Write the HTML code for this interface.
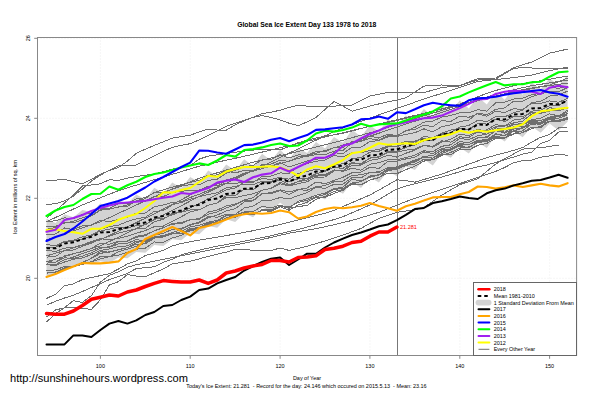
<!DOCTYPE html>
<html><head><meta charset="utf-8"><title>Global Sea Ice Extent</title>
<style>html,body{margin:0;padding:0;background:#fff;width:601px;height:400px;overflow:hidden}body{position:relative}</style>
</head><body>
<svg width="601" height="400" viewBox="0 0 601 400" style="position:absolute;left:0;top:0">
<g stroke="#e2e2e2" stroke-width="0.6" stroke-dasharray="1,2">
<line x1="100.4" y1="37.5" x2="100.4" y2="355.5"/>
<line x1="190.2" y1="37.5" x2="190.2" y2="355.5"/>
<line x1="280.1" y1="37.5" x2="280.1" y2="355.5"/>
<line x1="369.9" y1="37.5" x2="369.9" y2="355.5"/>
<line x1="459.8" y1="37.5" x2="459.8" y2="355.5"/>
<line x1="549.6" y1="37.5" x2="549.6" y2="355.5"/>
<line x1="37.5" y1="38.3" x2="576.6" y2="38.3"/>
<line x1="37.5" y1="118.3" x2="576.6" y2="118.3"/>
<line x1="37.5" y1="198.3" x2="576.6" y2="198.3"/>
<line x1="37.5" y1="278.3" x2="576.6" y2="278.3"/>
</g>
<polygon points="46.5,218.8 55.5,223.0 64.5,214.2 73.4,217.3 82.4,209.9 91.4,212.1 100.4,203.5 109.4,207.7 118.4,199.7 127.4,203.8 136.3,194.4 145.3,199.4 154.3,187.7 163.3,193.2 172.3,182.6 181.3,187.9 190.2,177.0 199.2,182.3 208.2,170.5 217.2,176.0 226.2,164.5 235.2,170.5 244.2,159.2 253.1,166.0 262.1,153.8 271.1,160.5 280.1,149.5 289.1,159.0 298.1,148.0 307.1,153.0 316.0,142.0 325.0,148.5 334.0,136.9 343.0,142.8 352.0,129.7 361.0,136.8 369.9,125.2 378.9,131.8 387.9,119.3 396.9,126.0 405.9,115.5 414.9,120.5 423.9,109.0 432.8,116.5 441.8,104.7 450.8,110.8 459.8,100.5 468.8,108.4 477.8,96.8 486.8,104.6 495.7,92.0 504.7,99.8 513.7,88.0 522.7,94.8 531.7,82.5 540.7,89.1 549.6,78.2 558.6,85.6 567.6,75.3 567.6,121.8 558.6,130.4 549.6,123.5 540.7,132.8 531.7,126.5 522.7,137.3 513.7,131.2 504.7,141.5 495.7,135.5 486.8,148.0 477.8,142.0 468.8,153.5 459.8,147.5 450.8,157.8 441.8,153.6 432.8,165.4 423.9,159.2 414.9,170.0 405.9,166.4 396.9,176.3 387.9,170.9 378.9,182.6 369.9,177.3 361.0,187.9 352.0,181.8 343.0,193.8 334.0,188.9 325.0,199.5 316.0,194.2 307.1,204.0 298.1,200.6 289.1,210.0 280.1,202.5 271.1,211.6 262.1,207.4 253.1,217.3 244.2,213.4 235.2,222.0 226.2,219.3 217.2,227.7 208.2,225.9 199.2,234.2 190.2,233.0 181.3,240.2 172.3,239.3 163.3,246.0 154.3,244.9 145.3,252.8 136.3,251.9 127.4,258.2 118.4,257.4 109.4,263.0 100.4,261.3 91.4,263.9 82.4,263.5 73.4,267.1 64.5,270.5 55.5,274.5 46.5,276.8" fill="#d3d3d3" stroke="none"/>
<g fill="none" stroke="#6e6e6e" stroke-width="1" shape-rendering="crispEdges">
<polyline points="46.5,180.8 55.5,180.2 64.5,179.3 73.4,181.6 82.4,183.8 91.4,179.5 100.4,174.2 109.4,170.5 118.4,167.5 127.4,161.1 136.3,153.3 145.3,149.2 154.3,145.4 163.3,141.8 172.3,138.2 181.3,136.5 190.2,135.3 199.2,131.8 208.2,129.1 217.2,130.0 226.2,130.2 235.2,124.8 244.2,120.8 253.1,117.2 262.1,113.7 271.1,112.2 280.1,110.2 289.1,107.5 298.1,105.1 307.1,106.1 316.0,106.9 325.0,106.5 334.0,106.1 343.0,105.6 352.0,105.0 361.0,100.5 369.9,96.1 378.9,94.2 387.9,92.5 396.9,92.5 405.9,92.5 414.9,92.5 423.9,92.5 432.8,90.1 441.8,87.5 450.8,86.7 459.8,85.9 468.8,82.8 477.8,80.0 486.8,79.5 495.7,79.0 504.7,73.7 513.7,68.3 522.7,67.7 531.7,68.0 540.7,68.0 549.6,68.0 558.6,68.0 567.6,68.0"/>
<polyline points="46.5,204.5 55.5,203.7 64.5,200.9 73.4,196.0 82.4,189.0 91.4,181.1 100.4,175.1 109.4,170.3 118.4,166.0 127.4,165.6 136.3,165.0 145.3,160.3 154.3,155.7 163.3,151.2 172.3,147.4 181.3,145.3 190.2,143.7 199.2,139.9 208.2,135.6 217.2,130.9 226.2,126.4 235.2,123.2 244.2,120.3 253.1,117.4 262.1,115.6 271.1,117.5 280.1,119.9 289.1,123.2 298.1,125.7 307.1,121.9 316.0,117.4 325.0,109.5 334.0,101.6 343.0,106.1 352.0,111.2 361.0,108.6 369.9,106.1 378.9,103.9 387.9,101.8 396.9,100.1 405.9,97.8 414.9,92.0 423.9,86.1 432.8,85.4 441.8,85.0 450.8,85.4 459.8,85.6 468.8,82.0 477.8,78.7 486.8,78.3 495.7,78.0 504.7,72.9 513.7,67.7 522.7,64.7 531.7,62.1 540.7,57.7 549.6,53.2 558.6,51.1 567.6,49.1"/>
<polyline points="46.5,218.3 55.5,210.8 64.5,203.1 73.4,195.0 82.4,186.0 91.4,185.0 100.4,183.8 109.4,179.7 118.4,180.4 127.4,178.1 136.3,176.6 145.3,175.3 154.3,174.0 163.3,171.7 172.3,169.1 181.3,167.4 190.2,165.8 199.2,159.1 208.2,156.1 217.2,154.8 226.2,153.5 235.2,152.3 244.2,151.1 253.1,150.1 262.1,149.0 271.1,149.5 280.1,150.0 289.1,146.4 298.1,142.8 307.1,140.2 316.0,138.0 325.0,136.2 334.0,134.8 343.0,133.3 352.0,131.0 361.0,128.5 369.9,126.0 378.9,124.2 387.9,122.4 396.9,120.6 405.9,118.4 414.9,116.0 423.9,113.6 432.8,111.2 441.8,108.8 450.8,106.4 459.8,104.1 468.8,100.5 477.8,96.9 486.8,93.3 495.7,90.5 504.7,88.1 513.7,85.7 522.7,83.6 531.7,82.1 540.7,80.7 549.6,79.2 558.6,77.6 567.6,76.1"/>
<polyline points="46.5,239.8 55.5,236.8 64.5,233.8 73.4,230.9 82.4,227.9 91.4,224.9 100.4,221.8 109.4,217.6 118.4,213.4 127.4,209.2 136.3,205.0 145.3,200.8 154.3,196.7 163.3,192.7 172.3,189.1 181.3,185.5 190.2,181.9 199.2,178.3 208.2,175.5 217.2,172.8 226.2,170.1 235.2,167.4 244.2,164.8 253.1,162.2 262.1,160.1 271.1,157.9 280.1,155.8 289.1,153.6 298.1,151.5 307.1,149.2 316.0,147.0 325.0,144.7 334.0,142.5 343.0,140.2 352.0,137.7 361.0,135.2 369.9,132.8 378.9,130.3 387.9,127.4 396.9,124.5 405.9,121.6 414.9,118.7 423.9,115.8 432.8,113.1 441.8,110.5 450.8,107.8 459.8,105.1 468.8,102.4 477.8,99.7 486.8,97.0 495.7,94.3 504.7,91.9 513.7,89.8 522.7,87.7 531.7,85.7 540.7,84.3 549.6,82.9 558.6,81.5 567.6,80.1"/>
<polyline points="46.5,255.9 55.5,253.2 64.5,250.5 73.4,247.9 82.4,245.2 91.4,242.5 100.4,239.8 109.4,235.5 118.4,231.2 127.4,226.9 136.3,222.6 145.3,218.2 154.3,213.8 163.3,209.1 172.3,204.4 181.3,199.7 190.2,195.1 199.2,190.4 208.2,187.0 217.2,183.8 226.2,180.6 235.2,177.3 244.2,174.1 253.1,171.1 262.1,168.6 271.1,166.1 280.1,163.6 289.1,161.1 298.1,158.5 307.1,155.9 316.0,153.2 325.0,150.5 334.0,147.8 343.0,145.1 352.0,142.3 361.0,139.3 369.9,136.2 378.9,133.2 387.9,130.1 396.9,127.1 405.9,124.1 414.9,121.2 423.9,118.2 432.8,115.3 441.8,112.4 450.8,109.5 459.8,106.6 468.8,103.6 477.8,100.7 486.8,98.3 495.7,96.1 504.7,93.8 513.7,91.6 522.7,89.6 531.7,88.1 540.7,86.6 549.6,85.1 558.6,81.6 567.6,78.1"/>
<polyline points="46.5,261.9 55.5,259.2 64.5,256.5 73.4,253.9 82.4,251.2 91.4,248.5 100.4,245.8 109.4,241.5 118.4,237.2 127.4,232.9 136.3,228.6 145.3,224.2 154.3,219.8 163.3,215.1 172.3,210.4 181.3,205.7 190.2,201.1 199.2,196.4 208.2,192.1 217.2,187.7 226.2,183.4 235.2,179.1 244.2,174.8 253.1,170.5 262.1,166.2 271.1,161.9 280.1,157.6 289.1,153.2 298.1,148.9 307.1,144.6 316.0,140.2 325.0,135.8 334.0,131.5 343.0,127.8 352.0,124.6 361.0,121.4 369.9,118.1 378.9,114.9 387.9,111.7 396.9,108.5 405.9,105.4 414.9,102.2 423.9,99.0 432.8,96.2 441.8,93.3 450.8,90.5 459.8,87.5 468.8,84.4 477.8,81.4 486.8,80.5 495.7,79.5 504.7,78.6 513.7,77.6 522.7,76.4 531.7,75.0 540.7,72.8 549.6,70.6 558.6,68.8 567.6,67.1"/>
<polyline points="46.5,221.8 55.5,217.5 64.5,213.3 73.4,209.1 82.4,205.0 91.4,201.4 100.4,197.8 109.4,194.2 118.4,190.7 127.4,187.8 136.3,185.1 145.3,182.4 154.3,179.7 163.3,177.0 172.3,174.3 181.3,171.6 190.2,168.9 199.2,166.2 208.2,164.2 217.2,162.2 226.2,160.2 235.2,158.3 244.2,156.3 253.1,154.2 262.1,152.1 271.1,149.9 280.1,147.8 289.1,145.6 298.1,143.5 307.1,141.3 316.0,139.2 325.0,137.0 334.0,134.8 343.0,132.7 352.0,130.5 361.0,128.4 369.9,126.2 378.9,124.1 387.9,121.9 396.9,119.7 405.9,117.6 414.9,115.4 423.9,113.3 432.8,111.1 441.8,109.0 450.8,106.8 459.8,104.6 468.8,102.5 477.8,100.3 486.8,98.2 495.7,96.0 504.7,94.1 513.7,92.3 522.7,90.5 531.7,88.7 540.7,86.9 549.6,85.6 558.6,84.3 567.6,83.1"/>
<polyline points="46.5,298.5 55.5,294.2 64.5,285.7 73.4,283.9 82.4,279.6 91.4,277.5 100.4,275.6 109.4,273.8 118.4,269.0 127.4,263.9 136.3,260.8 145.3,255.6 154.3,253.0 163.3,250.4 172.3,245.9 181.3,243.5 190.2,241.8 199.2,240.1 208.2,238.6 217.2,237.1 226.2,235.6 235.2,234.0 244.2,232.4 253.1,230.7 262.1,228.8 271.1,226.6 280.1,224.4 289.1,222.2 298.1,220.0 307.1,217.7 316.0,215.5 325.0,213.2 334.0,210.3 343.0,206.5 352.0,202.7 361.0,198.8 369.9,195.0 378.9,190.0 387.9,184.9 396.9,179.8 405.9,180.6 414.9,182.2 423.9,179.5 432.8,176.8 441.8,174.1 450.8,170.8 459.8,167.5 468.8,164.2 477.8,160.9 486.8,157.6 495.7,155.2 504.7,152.8 513.7,150.4 522.7,147.6 531.7,142.1 540.7,137.3 549.6,134.5 558.6,127.9 567.6,127.0"/>
<polyline points="46.5,305.3 55.5,301.2 64.5,298.0 73.4,295.2 82.4,291.5 91.4,287.5 100.4,283.8 109.4,279.6 118.4,276.6 127.4,273.5 136.3,268.5 145.3,267.7 154.3,266.8 163.3,262.4 172.3,259.3 181.3,254.7 190.2,252.4 199.2,250.2 208.2,248.1 217.2,246.2 226.2,244.6 235.2,242.9 244.2,241.2 253.1,239.4 262.1,237.6 271.1,235.7 280.1,233.6 289.1,231.5 298.1,229.5 307.1,227.1 316.0,224.6 325.0,222.1 334.0,219.6 343.0,216.7 352.0,212.8 361.0,208.9 369.9,205.0 378.9,199.6 387.9,194.2 396.9,188.9 405.9,186.1 414.9,183.7 423.9,181.5 432.8,179.3 441.8,177.0 450.8,174.4 459.8,171.7 468.8,169.0 477.8,166.8 486.8,165.0 495.7,162.4 504.7,159.7 513.7,157.0 522.7,154.1 531.7,152.1 540.7,143.5 549.6,140.4 558.6,132.0 567.6,131.2"/>
<polyline points="46.5,317.0 55.5,310.0 64.5,307.8 73.4,307.5 82.4,308.4 91.4,309.4 100.4,299.8 109.4,284.9 118.4,281.7 127.4,274.6 136.3,276.0 145.3,276.6 154.3,272.8 163.3,269.0 172.3,263.9 181.3,262.4 190.2,261.2 199.2,258.9 208.2,256.4 217.2,254.1 226.2,252.2 235.2,249.4 244.2,249.7 253.1,250.2 262.1,251.0 271.1,250.4 280.1,248.1 289.1,250.4 298.1,248.4 307.1,246.2 316.0,243.6 325.0,241.0 334.0,238.0 343.0,235.0 352.0,231.8 361.0,228.5 369.9,223.4 378.9,218.4 387.9,215.3 396.9,212.3 405.9,211.0 414.9,209.6 423.9,207.6 432.8,201.3 441.8,195.1 450.8,189.9 459.8,184.6 468.8,181.6 477.8,178.6 486.8,171.4 495.7,164.0 504.7,158.8 513.7,153.9 522.7,149.1 531.7,148.2 540.7,147.8 549.6,146.4 558.6,145.0"/>
<polyline points="46.5,322.0 55.5,313.7 64.5,307.6 73.4,300.6 82.4,302.4 91.4,295.7 100.4,282.0 109.4,275.4 118.4,271.8 127.4,267.3 136.3,264.7 145.3,262.9 154.3,261.1 163.3,259.3 172.3,257.5 181.3,255.7 190.2,253.9 199.2,252.2 208.2,250.4 217.2,248.6 226.2,246.8 235.2,245.0 244.2,243.2 253.1,241.4 262.1,239.5 271.1,237.4 280.1,235.3 289.1,233.2 298.1,231.7 307.1,230.2 316.0,228.7 325.0,226.8 334.0,224.7 343.0,222.6 352.0,220.4 361.0,217.7 369.9,215.0 378.9,212.3 387.9,208.8 396.9,205.2 405.9,201.6 414.9,198.4 423.9,195.4 432.8,192.4 441.8,189.4 450.8,186.4 459.8,183.4 468.8,180.4 477.8,177.4 486.8,174.4 495.7,171.4 504.7,167.5 513.7,162.7 522.7,160.6 531.7,160.0 540.7,157.2 549.6,155.9 558.6,154.2 567.6,155.4"/>
<polyline points="46.5,226.1 55.5,226.3 64.5,223.1 73.4,221.3 82.4,217.7 91.4,215.6 100.4,209.8 109.4,209.3 118.4,206.8 127.4,206.3 136.3,200.8 145.3,198.6 154.3,192.2 163.3,192.3 172.3,189.4 181.3,186.1 190.2,184.6 199.2,184.8 208.2,180.4 217.2,179.2 226.2,173.1 235.2,170.4 244.2,166.8 253.1,165.4 262.1,159.8 271.1,159.4 280.1,154.6 289.1,158.1 298.1,154.9 307.1,155.2 316.0,151.6 325.0,152.0 334.0,147.7 343.0,147.5 352.0,141.5 361.0,140.9 369.9,138.6 378.9,140.1 387.9,135.6 396.9,135.6 405.9,130.8 414.9,127.4 423.9,122.1 432.8,121.1 441.8,117.1 450.8,115.4 459.8,112.9 468.8,112.9 477.8,109.7 486.8,111.2 495.7,102.8 504.7,102.2 513.7,99.0 522.7,98.3 531.7,94.6 540.7,93.3 549.6,87.4 558.6,88.3 567.6,86.0"/>
<polyline points="46.5,229.4 55.5,227.6 64.5,222.2 73.4,222.8 82.4,220.1 91.4,215.9 100.4,210.3 109.4,208.2 118.4,203.6 127.4,203.6 136.3,198.9 145.3,197.7 154.3,192.5 163.3,189.8 172.3,187.1 181.3,184.8 190.2,182.5 199.2,180.2 208.2,176.3 217.2,174.8 226.2,170.7 235.2,172.9 244.2,170.5 253.1,170.2 262.1,167.2 271.1,166.2 280.1,162.5 289.1,167.1 298.1,164.1 307.1,161.0 316.0,159.4 325.0,157.9 334.0,152.8 343.0,153.5 352.0,147.2 361.0,147.1 369.9,141.6 378.9,140.6 387.9,136.8 396.9,136.5 405.9,134.4 414.9,132.7 423.9,128.8 432.8,131.9 441.8,126.7 450.8,124.8 459.8,121.6 468.8,120.0 477.8,113.0 486.8,114.8 495.7,109.3 504.7,107.9 513.7,101.1 522.7,101.1 531.7,96.7 540.7,94.0 549.6,91.1 558.6,91.8 567.6,87.6"/>
<polyline points="46.5,235.0 55.5,233.9 64.5,228.0 73.4,229.6 82.4,225.8 91.4,225.1 100.4,220.3 109.4,221.7 118.4,219.4 127.4,217.3 136.3,213.0 145.3,213.0 154.3,206.8 163.3,205.0 172.3,202.4 181.3,201.7 190.2,197.5 199.2,194.2 208.2,190.5 217.2,186.9 226.2,180.0 235.2,177.8 244.2,173.1 253.1,171.0 262.1,164.6 271.1,164.0 280.1,160.3 289.1,161.3 298.1,156.8 307.1,156.3 316.0,154.6 325.0,154.8 334.0,151.1 343.0,150.3 352.0,143.0 361.0,141.6 369.9,135.9 378.9,138.1 387.9,134.0 396.9,135.9 405.9,130.5 414.9,129.4 423.9,125.0 432.8,126.7 441.8,120.6 450.8,121.5 459.8,116.1 468.8,117.3 477.8,113.8 486.8,116.2 495.7,111.2 504.7,112.5 513.7,108.6 522.7,109.6 531.7,103.2 540.7,103.4 549.6,100.9 558.6,102.3 567.6,98.2"/>
<polyline points="46.5,244.4 55.5,245.9 64.5,241.3 73.4,240.5 82.4,236.7 91.4,234.9 100.4,231.1 109.4,229.1 118.4,227.1 127.4,227.8 136.3,225.7 145.3,224.8 154.3,219.0 163.3,218.4 172.3,214.8 181.3,211.6 190.2,207.9 199.2,203.4 208.2,198.7 217.2,194.5 226.2,189.8 235.2,188.1 244.2,182.2 253.1,182.3 262.1,176.5 271.1,176.0 280.1,172.9 289.1,173.4 298.1,166.7 307.1,163.6 316.0,161.2 325.0,160.2 334.0,155.4 343.0,157.0 352.0,152.4 361.0,152.9 369.9,150.4 378.9,149.7 387.9,145.5 396.9,144.5 405.9,141.3 414.9,141.1 423.9,138.6 432.8,140.7 441.8,134.6 450.8,132.6 459.8,127.0 468.8,125.5 477.8,120.2 486.8,121.7 495.7,116.5 504.7,116.9 513.7,112.7 522.7,110.2 531.7,102.6 540.7,101.4 549.6,96.1 558.6,94.9 567.6,91.1"/>
<polyline points="46.5,247.8 55.5,247.3 64.5,241.4 73.4,241.2 82.4,239.2 91.4,235.9 100.4,229.3 109.4,226.6 118.4,225.1 127.4,221.5 136.3,218.8 145.3,217.3 154.3,211.3 163.3,210.7 172.3,204.8 181.3,202.4 190.2,199.3 199.2,196.7 208.2,194.5 217.2,192.8 226.2,188.0 235.2,186.4 244.2,184.0 253.1,184.7 262.1,181.1 271.1,182.2 280.1,180.1 289.1,184.7 298.1,181.5 307.1,178.4 316.0,173.7 325.0,171.4 334.0,164.8 343.0,163.8 352.0,158.8 361.0,157.5 369.9,152.1 378.9,151.3 387.9,146.8 396.9,146.6 405.9,143.3 414.9,141.9 423.9,136.5 432.8,137.7 441.8,133.1 450.8,130.0 459.8,128.2 468.8,129.7 477.8,123.4 486.8,124.1 495.7,119.1 504.7,121.6 513.7,116.3 522.7,116.4 531.7,112.7 540.7,113.4 549.6,111.0 558.6,110.8 567.6,108.0"/>
<polyline points="46.5,250.2 55.5,251.5 64.5,248.1 73.4,247.4 82.4,244.9 91.4,241.4 100.4,238.7 109.4,239.9 118.4,238.3 127.4,236.2 136.3,233.3 145.3,230.5 154.3,226.7 163.3,226.1 172.3,221.2 181.3,216.7 190.2,211.8 199.2,209.7 208.2,205.3 217.2,202.9 226.2,195.8 235.2,195.7 244.2,189.1 253.1,189.8 262.1,182.8 271.1,181.5 280.1,178.4 289.1,179.1 298.1,173.5 307.1,171.5 316.0,169.3 325.0,170.8 334.0,167.4 343.0,168.4 352.0,162.4 361.0,164.5 369.9,158.2 378.9,157.1 387.9,152.5 396.9,152.0 405.9,150.1 414.9,149.1 423.9,145.1 432.8,147.3 441.8,142.2 450.8,139.2 459.8,134.2 468.8,135.6 477.8,131.4 486.8,129.8 495.7,124.6 504.7,126.0 513.7,120.0 522.7,118.7 531.7,111.1 540.7,110.2 549.6,105.6 558.6,105.6 567.6,99.8"/>
<polyline points="46.5,257.1 55.5,256.4 64.5,250.6 73.4,250.0 82.4,246.3 91.4,243.3 100.4,239.1 109.4,236.3 118.4,233.1 127.4,230.9 136.3,228.9 145.3,228.4 154.3,221.6 163.3,219.3 172.3,213.6 181.3,212.1 190.2,209.9 199.2,210.0 208.2,205.1 217.2,203.0 226.2,197.6 235.2,197.6 244.2,195.4 253.1,193.9 262.1,190.2 271.1,188.3 280.1,183.7 289.1,186.0 298.1,183.7 307.1,181.7 316.0,177.1 325.0,177.0 334.0,170.9 343.0,170.8 352.0,163.3 361.0,163.6 369.9,158.1 378.9,156.7 387.9,151.8 396.9,151.4 405.9,147.4 414.9,145.1 423.9,140.8 432.8,139.9 441.8,133.3 450.8,133.5 459.8,131.0 468.8,132.5 477.8,129.5 486.8,130.9 495.7,126.6 504.7,126.2 513.7,122.6 522.7,123.5 531.7,119.7 540.7,118.3 549.6,113.8 558.6,116.0 567.6,111.6"/>
<polyline points="46.5,261.2 55.5,262.5 64.5,255.9 73.4,253.7 82.4,251.6 91.4,248.5 100.4,243.0 109.4,244.3 118.4,241.3 127.4,241.2 136.3,236.3 145.3,234.8 154.3,231.0 163.3,227.8 172.3,223.6 181.3,222.5 190.2,219.8 199.2,219.3 208.2,212.1 217.2,210.0 226.2,206.0 235.2,204.2 244.2,199.9 253.1,197.7 262.1,190.3 271.1,188.3 280.1,182.5 289.1,185.5 298.1,181.7 307.1,179.9 316.0,175.2 325.0,174.5 334.0,169.9 343.0,171.4 352.0,168.1 361.0,170.2 369.9,164.2 378.9,162.6 387.9,159.7 396.9,159.7 405.9,157.6 414.9,155.1 423.9,150.8 432.8,151.7 441.8,146.3 450.8,144.8 459.8,138.5 468.8,139.7 477.8,135.7 486.8,134.3 495.7,127.8 504.7,128.9 513.7,123.1 522.7,121.0 531.7,114.0 540.7,113.6 549.6,107.6 558.6,109.5 567.6,107.1"/>
<polyline points="46.5,264.1 55.5,264.8 64.5,259.6 73.4,257.1 82.4,253.4 91.4,250.5 100.4,247.3 109.4,246.9 118.4,241.8 127.4,241.0 136.3,237.3 145.3,235.7 154.3,230.7 163.3,227.5 172.3,224.2 181.3,223.5 190.2,219.7 199.2,218.6 208.2,214.3 217.2,211.9 226.2,208.0 235.2,205.0 244.2,200.2 253.1,200.3 262.1,193.5 271.1,193.4 280.1,190.8 289.1,194.4 298.1,189.8 307.1,190.2 316.0,186.8 325.0,185.6 334.0,181.8 343.0,181.0 352.0,175.2 361.0,174.9 369.9,172.4 378.9,172.3 387.9,167.5 396.9,167.9 405.9,165.8 414.9,161.2 423.9,157.0 432.8,158.2 441.8,151.4 450.8,149.2 459.8,143.3 468.8,142.7 477.8,137.6 486.8,136.9 495.7,130.5 504.7,133.1 513.7,128.4 522.7,128.0 531.7,124.3 540.7,123.7 549.6,121.2 558.6,121.2 567.6,118.3"/>
<polyline points="46.5,264.7 55.5,265.5 64.5,262.0 73.4,259.2 82.4,258.0 91.4,254.5 100.4,250.5 109.4,249.0 118.4,246.5 127.4,245.9 136.3,241.1 145.3,241.9 154.3,236.8 163.3,235.6 172.3,232.5 181.3,229.6 190.2,224.3 199.2,222.9 208.2,217.9 217.2,215.0 226.2,211.0 235.2,208.6 244.2,202.0 253.1,200.8 262.1,193.9 271.1,192.6 280.1,189.9 289.1,192.0 298.1,189.5 307.1,188.0 316.0,182.1 325.0,183.6 334.0,180.5 343.0,177.2 352.0,172.7 361.0,172.1 369.9,167.2 378.9,168.4 387.9,161.5 396.9,161.1 405.9,158.9 414.9,157.2 423.9,151.9 432.8,153.6 441.8,148.5 450.8,147.2 459.8,141.6 468.8,142.8 477.8,137.9 486.8,137.6 495.7,130.5 504.7,132.1 513.7,126.5 522.7,126.9 531.7,123.0 540.7,123.2 549.6,119.1 558.6,120.5 567.6,117.6"/>
<polyline points="46.5,270.4 55.5,269.9 64.5,266.5 73.4,266.1 82.4,262.6 91.4,258.2 100.4,251.6 109.4,252.2 118.4,249.6 127.4,247.7 136.3,242.9 145.3,239.8 154.3,235.1 163.3,233.3 172.3,229.4 181.3,228.2 190.2,225.1 199.2,222.1 208.2,216.5 217.2,217.2 226.2,214.3 235.2,214.5 244.2,208.0 253.1,206.1 262.1,200.5 271.1,200.4 280.1,197.5 289.1,198.9 298.1,195.7 307.1,192.6 316.0,187.5 325.0,188.3 334.0,184.4 343.0,184.1 352.0,177.7 361.0,178.0 369.9,172.4 378.9,171.8 387.9,167.7 396.9,168.8 405.9,163.4 414.9,160.1 423.9,157.1 432.8,158.1 441.8,153.5 450.8,150.1 459.8,145.3 468.8,144.4 477.8,140.3 486.8,139.7 495.7,133.8 504.7,135.6 513.7,128.9 522.7,127.8 531.7,122.5 540.7,122.7 549.6,117.3 558.6,116.0 567.6,110.2"/>
<polyline points="46.5,276.7 55.5,274.5 64.5,267.8 73.4,266.9 82.4,263.4 91.4,261.8 100.4,256.4 109.4,256.8 118.4,251.8 127.4,249.1 136.3,246.3 145.3,243.1 154.3,237.4 163.3,237.0 172.3,234.0 181.3,231.7 190.2,226.8 199.2,225.3 208.2,222.1 217.2,220.5 226.2,215.1 235.2,215.6 244.2,212.1 253.1,213.9 262.1,210.5 271.1,211.5 280.1,206.8 289.1,210.2 298.1,205.1 307.1,202.3 316.0,197.1 325.0,197.5 334.0,193.5 343.0,190.3 352.0,182.9 361.0,181.8 369.9,176.1 378.9,174.8 387.9,168.6 396.9,166.8 405.9,163.3 414.9,162.0 423.9,157.0 432.8,158.1 441.8,151.9 450.8,148.9 459.8,146.0 468.8,147.9 477.8,141.7 486.8,140.2 495.7,134.6 504.7,135.5 513.7,130.9 522.7,132.3 531.7,127.1 540.7,127.5 549.6,121.4 558.6,121.7 567.6,119.4"/>
<polyline points="46.5,221.7 55.5,220.8 64.5,217.8 73.4,218.8 82.4,214.2 91.4,213.1 100.4,207.9 109.4,209.0 118.4,207.1 127.4,204.9 136.3,200.8 145.3,201.1 154.3,196.6 163.3,196.5 172.3,192.6 181.3,191.3 190.2,190.4 199.2,190.2 208.2,186.2 217.2,185.8 226.2,183.1 235.2,183.7 244.2,181.7 253.1,181.7 262.1,178.5 271.1,179.4 280.1,177.3 289.1,181.4 298.1,179.0 307.1,178.8 316.0,176.1 325.0,175.7 334.0,170.8 343.0,170.4 352.0,165.5 361.0,165.2 369.9,160.4 378.9,158.9 387.9,155.1 396.9,157.1 405.9,153.2 414.9,150.2 423.9,145.2 432.8,146.3 441.8,140.9 450.8,142.1 459.8,136.9 468.8,137.4 477.8,131.9 486.8,134.1 495.7,130.1 504.7,130.0 513.7,124.2 522.7,124.7 531.7,120.6 540.7,122.5 549.6,117.3 558.6,116.9 567.6,113.4"/>
<polyline points="46.5,273.2 55.5,272.0 64.5,268.0 73.4,266.8 82.4,262.1 91.4,258.5 100.4,253.4 109.4,251.7 118.4,249.9 127.4,247.6 136.3,244.3 145.3,243.8 154.3,238.3 163.3,235.5 172.3,233.0 181.3,233.2 190.2,228.7 199.2,227.5 208.2,224.8 217.2,223.2 226.2,217.8 235.2,215.4 244.2,213.7 253.1,215.0 262.1,209.6 271.1,209.7 280.1,206.1 289.1,208.2 298.1,206.6 307.1,205.4 316.0,199.4 325.0,196.4 334.0,191.4 343.0,189.6 352.0,184.5 361.0,185.0 369.9,180.1 378.9,177.7 387.9,170.6 396.9,169.4 405.9,164.8 414.9,164.2 423.9,159.3 432.8,159.8 441.8,155.5 450.8,152.4 459.8,148.1 468.8,146.9 477.8,142.8 486.8,141.0 495.7,136.3 504.7,137.8 513.7,133.5 522.7,130.7 531.7,123.9 540.7,124.1 549.6,118.2 558.6,118.3 567.6,114.8"/>
<polyline points="46.5,272.0 55.5,272.3 64.5,268.8 73.4,266.6 82.4,264.4 91.4,261.7 100.4,259.0 109.4,256.7 118.4,255.1 127.4,252.4 136.3,249.3 145.3,248.1 154.3,242.0 163.3,242.2 172.3,238.0 181.3,235.4 190.2,229.8 199.2,227.7 208.2,223.2 217.2,222.8 226.2,217.9 235.2,217.7 244.2,211.8 253.1,211.5 262.1,206.3 271.1,208.0 280.1,205.1 289.1,207.7 298.1,201.3 307.1,198.8 316.0,195.2 325.0,193.2 334.0,188.7 343.0,187.1 352.0,179.0 361.0,181.1 369.9,177.2 378.9,175.1 387.9,169.8 396.9,168.3 405.9,163.9 414.9,161.8 423.9,156.2 432.8,155.8 441.8,149.8 450.8,149.4 459.8,144.8 468.8,144.6 477.8,141.1 486.8,141.3 495.7,137.4 504.7,138.2 513.7,134.0 522.7,132.8 531.7,128.6 540.7,126.3 549.6,121.1 558.6,120.2 567.6,118.2"/>
<polyline points="46.5,263.1 55.5,262.3 64.5,257.8 73.4,258.6 82.4,256.1 91.4,252.8 100.4,248.2 109.4,247.3 118.4,243.9 127.4,243.4 136.3,239.5 145.3,241.0 154.3,236.7 163.3,236.1 172.3,233.8 181.3,233.4 190.2,230.8 199.2,228.6 208.2,223.2 217.2,221.6 226.2,215.5 235.2,214.8 244.2,212.0 253.1,214.1 262.1,210.0 271.1,210.2 280.1,206.4 289.1,206.9 298.1,202.5 307.1,200.3 316.0,196.7 325.0,194.4 334.0,189.4 343.0,188.4 352.0,183.5 361.0,184.6 369.9,179.9 378.9,177.6 387.9,173.0 396.9,173.7 405.9,169.6 414.9,166.2 423.9,161.1 432.8,159.7 441.8,154.7 450.8,154.5 459.8,149.6 468.8,150.0 477.8,145.3 486.8,143.4 495.7,138.3 504.7,138.2 513.7,130.9 522.7,128.0 531.7,121.1 540.7,120.7 549.6,117.1 558.6,116.1 567.6,113.9"/>
</g>
<line x1="397.5" y1="37.5" x2="397.5" y2="355.5" stroke="#777" stroke-width="1" shape-rendering="crispEdges"/>
<polyline points="46.5,248.3 55.5,248.3 64.5,243.5 73.4,242.3 82.4,239.0 91.4,236.8 100.4,232.5 109.4,232.0 118.4,229.0 127.4,227.5 136.3,224.0 145.3,222.5 154.3,217.5 163.3,216.0 172.3,212.3 181.3,210.5 190.2,206.5 199.2,204.8 208.2,200.0 217.2,198.5 226.2,194.0 235.2,193.0 244.2,188.7 253.1,188.5 262.1,183.3 271.1,183.0 280.1,179.0 289.1,181.5 298.1,177.5 307.1,175.5 316.0,171.5 325.0,171.0 334.0,166.5 343.0,165.5 352.0,159.6 361.0,159.8 369.9,155.3 378.9,155.0 387.9,149.7 396.9,149.5 405.9,146.0 414.9,144.0 423.9,139.5 432.8,140.0 441.8,134.5 450.8,133.0 459.8,129.0 468.8,129.5 477.8,124.5 486.8,125.0 495.7,119.0 504.7,119.5 513.7,114.5 522.7,114.0 531.7,108.5 540.7,108.0 549.6,104.0 558.6,104.2 567.6,100.8" fill="none" stroke="#000" stroke-width="2.0" stroke-linejoin="round" stroke-linecap="butt" stroke-dasharray="3.5,2.8"/>
<polyline points="46.5,230.0 55.5,229.5 64.5,231.0 73.4,232.3 82.4,233.8 91.4,228.8 100.4,228.8 109.4,225.0 118.4,219.8 127.4,216.6 136.3,214.0 145.3,208.0 154.3,201.0 163.3,192.3 172.3,192.6 181.3,190.0 190.2,188.0 199.2,182.0 208.2,175.8 217.2,176.8 226.2,171.6 235.2,169.0 244.2,167.0 253.1,167.0 262.1,166.7 271.1,166.2 280.1,167.5 289.1,170.7 298.1,176.0 307.1,169.5 316.0,166.3 325.0,168.2 334.0,164.5 343.0,160.0 352.0,153.2 361.0,151.7 369.9,147.7 378.9,143.2 387.9,144.7 396.9,144.0 405.9,143.2 414.9,144.0 423.9,140.2 432.8,138.0 441.8,136.5 450.8,134.2 459.8,130.8 468.8,132.7 477.8,130.5 486.8,131.8 495.7,130.2 504.7,129.0 513.7,127.5 522.7,124.2 531.7,116.2 540.7,111.3 549.6,110.2 558.6,108.7 567.6,107.7" fill="none" stroke="#ffff00" stroke-width="2.1" stroke-linejoin="round" stroke-linecap="round" />
<polyline points="46.5,231.7 55.5,229.7 64.5,220.0 73.4,218.0 82.4,215.0 91.4,211.0 100.4,208.0 109.4,205.6 118.4,203.2 127.4,202.5 136.3,201.7 145.3,200.8 154.3,199.3 163.3,197.7 172.3,196.5 181.3,193.0 190.2,194.0 199.2,191.0 208.2,188.0 217.2,182.6 226.2,180.8 235.2,179.4 244.2,182.0 253.1,177.3 262.1,174.6 271.1,173.3 280.1,167.7 289.1,171.5 298.1,167.0 307.1,162.8 316.0,157.7 325.0,157.7 334.0,154.0 343.0,145.7 352.0,143.5 361.0,138.4 369.9,134.0 378.9,130.5 387.9,126.5 396.9,124.3 405.9,122.2 414.9,120.0 423.9,118.3 432.8,117.6 441.8,115.6 450.8,111.8 459.8,108.1 468.8,103.9 477.8,99.4 486.8,99.0 495.7,94.0 504.7,91.7 513.7,90.7 522.7,91.0 531.7,91.7 540.7,94.0 549.6,87.7 558.6,85.7 567.6,87.2" fill="none" stroke="#a020f0" stroke-width="2.1" stroke-linejoin="round" stroke-linecap="round" />
<polyline points="46.5,216.0 55.5,210.5 64.5,207.0 73.4,205.0 82.4,199.0 91.4,194.0 100.4,193.8 109.4,186.5 118.4,189.7 127.4,185.3 136.3,181.8 145.3,177.0 154.3,174.0 163.3,172.5 172.3,170.0 181.3,167.4 190.2,165.4 199.2,163.4 208.2,165.0 217.2,160.5 226.2,155.0 235.2,156.6 244.2,150.0 253.1,149.1 262.1,147.4 271.1,145.0 280.1,143.5 289.1,146.1 298.1,145.5 307.1,140.5 316.0,133.5 325.0,130.8 334.0,131.6 343.0,130.0 352.0,127.6 361.0,123.7 369.9,126.2 378.9,124.4 387.9,123.7 396.9,123.4 405.9,120.5 414.9,117.2 423.9,114.6 432.8,111.4 441.8,106.4 450.8,98.5 459.8,96.5 468.8,92.4 477.8,88.7 486.8,85.3 495.7,82.0 504.7,85.4 513.7,84.2 522.7,84.2 531.7,82.3 540.7,81.7 549.6,76.7 558.6,72.2 567.6,71.5" fill="none" stroke="#00ff00" stroke-width="2.1" stroke-linejoin="round" stroke-linecap="round" />
<polyline points="46.5,241.0 55.5,237.0 64.5,234.0 73.4,228.5 82.4,221.5 91.4,214.0 100.4,206.0 109.4,203.5 118.4,201.0 127.4,197.7 136.3,192.5 145.3,187.5 154.3,181.5 163.3,177.0 172.3,172.0 181.3,167.0 190.2,162.6 199.2,150.6 208.2,150.8 217.2,152.5 226.2,153.8 235.2,149.5 244.2,145.1 253.1,144.6 262.1,142.5 271.1,139.8 280.1,138.0 289.1,141.2 298.1,138.0 307.1,135.1 316.0,129.9 325.0,129.4 334.0,128.2 343.0,127.3 352.0,124.5 361.0,119.3 369.9,118.7 378.9,116.5 387.9,118.8 396.9,112.3 405.9,113.1 414.9,109.3 423.9,105.2 432.8,102.8 441.8,104.3 450.8,105.2 459.8,105.9 468.8,100.3 477.8,98.4 486.8,97.7 495.7,96.7 504.7,94.7 513.7,93.2 522.7,92.2 531.7,91.0 540.7,90.0 549.6,92.5 558.6,93.7 567.6,96.7" fill="none" stroke="#0000ff" stroke-width="2.1" stroke-linejoin="round" stroke-linecap="round" />
<polyline points="46.5,277.0 55.5,274.0 64.5,270.0 73.4,266.6 82.4,263.0 91.4,263.4 100.4,263.4 109.4,262.6 118.4,261.4 127.4,253.0 136.3,249.0 145.3,239.0 154.3,235.0 163.3,231.0 172.3,227.0 181.3,231.0 190.2,235.4 199.2,228.0 208.2,226.0 217.2,223.0 226.2,219.5 235.2,216.0 244.2,214.3 253.1,213.0 262.1,213.8 271.1,213.0 280.1,210.5 289.1,212.2 298.1,218.5 307.1,216.5 316.0,212.0 325.0,209.0 334.0,207.5 343.0,208.2 352.0,207.3 361.0,205.8 369.9,203.0 378.9,206.0 387.9,208.2 396.9,210.7 405.9,206.3 414.9,203.7 423.9,200.5 432.8,197.4 441.8,197.0 450.8,197.0 459.8,194.3 468.8,192.0 477.8,186.5 486.8,187.0 495.7,188.6 504.7,187.3 513.7,185.4 522.7,187.0 531.7,185.4 540.7,183.8 549.6,185.4 558.6,186.4 567.6,183.2" fill="none" stroke="#ffa500" stroke-width="2.1" stroke-linejoin="round" stroke-linecap="round" />
<polyline points="46.5,344.4 55.5,344.4 64.5,344.4 73.4,335.4 82.4,335.4 91.4,337.0 100.4,330.0 109.4,323.6 118.4,321.0 127.4,323.6 136.3,320.4 145.3,315.0 154.3,312.0 163.3,306.0 172.3,305.0 181.3,300.0 190.2,296.6 199.2,290.0 208.2,288.6 217.2,283.4 226.2,280.0 235.2,277.0 244.2,270.5 253.1,266.0 262.1,262.0 271.1,258.7 280.1,257.5 289.1,265.0 298.1,259.5 307.1,253.7 316.0,253.7 325.0,247.5 334.0,242.5 343.0,238.7 352.0,235.0 361.0,232.5 369.9,229.5 378.9,226.2 387.9,224.5 396.9,220.2 405.9,214.8 414.9,209.1 423.9,207.9 432.8,203.1 441.8,201.2 450.8,199.0 459.8,196.5 468.8,198.0 477.8,199.0 486.8,193.3 495.7,190.2 504.7,188.6 513.7,185.4 522.7,183.2 531.7,180.7 540.7,180.0 549.6,177.5 558.6,174.7 567.6,177.8" fill="none" stroke="#000" stroke-width="2.0" stroke-linejoin="round" stroke-linecap="round" />
<polyline points="46.5,313.5 55.5,314.3 64.5,314.2 73.4,311.0 82.4,305.5 91.4,299.2 100.4,297.2 109.4,295.0 118.4,296.0 127.4,292.0 136.3,290.0 145.3,286.5 154.3,283.4 163.3,280.6 172.3,281.4 181.3,282.0 190.2,282.0 199.2,280.0 208.2,283.4 217.2,280.0 226.2,273.0 235.2,271.0 244.2,268.0 253.1,266.0 262.1,264.5 271.1,260.5 280.1,260.5 289.1,262.0 298.1,257.5 307.1,257.0 316.0,255.7 325.0,249.5 334.0,248.2 343.0,246.2 352.0,242.5 361.0,241.2 369.9,236.2 378.9,232.0 387.9,232.0 396.9,227.0" fill="none" stroke="#ff0000" stroke-width="3.5" stroke-linejoin="round" stroke-linecap="round" />
<text x="400" y="228.5" font-family="Liberation Sans, sans-serif" font-size="5.5" fill="#ff0000">21.281</text>
<rect x="37.5" y="37.5" width="539.1" height="318" fill="none" stroke="#888" stroke-width="1"/>
<g stroke="#888" stroke-width="1">
<line x1="100.4" y1="355.5" x2="100.4" y2="358.8"/>
<line x1="190.2" y1="355.5" x2="190.2" y2="358.8"/>
<line x1="280.1" y1="355.5" x2="280.1" y2="358.8"/>
<line x1="369.9" y1="355.5" x2="369.9" y2="358.8"/>
<line x1="459.8" y1="355.5" x2="459.8" y2="358.8"/>
<line x1="549.6" y1="355.5" x2="549.6" y2="358.8"/>
<line x1="34.2" y1="38.3" x2="37.5" y2="38.3"/>
<line x1="34.2" y1="118.3" x2="37.5" y2="118.3"/>
<line x1="34.2" y1="198.3" x2="37.5" y2="198.3"/>
<line x1="34.2" y1="278.3" x2="37.5" y2="278.3"/>
</g>
<g font-family="Liberation Sans, sans-serif" font-size="5.5" fill="#000" text-anchor="middle">
<text x="100.4" y="368">100</text>
<text x="190.2" y="368">110</text>
<text x="280.1" y="368">120</text>
<text x="369.9" y="368">130</text>
<text x="459.8" y="368">140</text>
<text x="549.6" y="368">150</text>
<text transform="translate(30,38.3) rotate(-90)" x="0" y="0">26</text>
<text transform="translate(30,118.3) rotate(-90)" x="0" y="0">24</text>
<text transform="translate(30,198.3) rotate(-90)" x="0" y="0">22</text>
<text transform="translate(30,278.3) rotate(-90)" x="0" y="0">20</text>
</g>
<rect x="473.5" y="282.5" width="103" height="73" fill="#fff" stroke="#666" stroke-width="1" shape-rendering="crispEdges"/>
<line x1="478.5" y1="289.2" x2="489.4" y2="289.2" stroke="#ff0000" stroke-width="2.5" stroke-linecap="round"/>
<text x="493.7" y="291.2" font-family="Liberation Sans, sans-serif" font-size="5.45" fill="#000">2018</text>
<line x1="478.5" y1="295.9" x2="489.4" y2="295.9" stroke="#000" stroke-width="2" stroke-dasharray="2,4.5" stroke-linecap="round"/>
<text x="493.7" y="297.9" font-family="Liberation Sans, sans-serif" font-size="5.45" fill="#000">Mean 1981-2010</text>
<rect x="475.6" y="299.7" width="15.9" height="5.8" rx="2.9" fill="#d3d3d3"/>
<text x="493.7" y="304.6" font-family="Liberation Sans, sans-serif" font-size="5.45" fill="#000">1 Standard Deviation From Mean</text>
<line x1="478.5" y1="309.2" x2="489.4" y2="309.2" stroke="#000" stroke-width="2" stroke-linecap="round"/>
<text x="493.7" y="311.2" font-family="Liberation Sans, sans-serif" font-size="5.45" fill="#000">2017</text>
<line x1="478.5" y1="315.9" x2="489.4" y2="315.9" stroke="#ffa500" stroke-width="2" stroke-linecap="round"/>
<text x="493.7" y="317.9" font-family="Liberation Sans, sans-serif" font-size="5.45" fill="#000">2016</text>
<line x1="478.5" y1="322.6" x2="489.4" y2="322.6" stroke="#0000ff" stroke-width="2" stroke-linecap="round"/>
<text x="493.7" y="324.6" font-family="Liberation Sans, sans-serif" font-size="5.45" fill="#000">2015</text>
<line x1="478.5" y1="329.3" x2="489.4" y2="329.3" stroke="#00ff00" stroke-width="2" stroke-linecap="round"/>
<text x="493.7" y="331.3" font-family="Liberation Sans, sans-serif" font-size="5.45" fill="#000">2014</text>
<line x1="478.5" y1="336.0" x2="489.4" y2="336.0" stroke="#a020f0" stroke-width="2" stroke-linecap="round"/>
<text x="493.7" y="338.0" font-family="Liberation Sans, sans-serif" font-size="5.45" fill="#000">2013</text>
<line x1="478.5" y1="342.6" x2="489.4" y2="342.6" stroke="#ffff00" stroke-width="2" stroke-linecap="round"/>
<text x="493.7" y="344.6" font-family="Liberation Sans, sans-serif" font-size="5.45" fill="#000">2012</text>
<line x1="478.5" y1="349.3" x2="489.4" y2="349.3" stroke="#6e6e6e" stroke-width="1" stroke-linecap="butt"/>
<text x="493.7" y="351.3" font-family="Liberation Sans, sans-serif" font-size="5.45" fill="#000">Every Other Year</text>
<text x="306.7" y="27" text-anchor="middle" font-family="Liberation Sans, sans-serif" font-size="6.8" font-weight="bold">Global Sea Ice Extent Day 133 1978 to 2018</text>
<text transform="translate(17,197) rotate(-90)" text-anchor="middle" font-family="Liberation Sans, sans-serif" font-size="5.5">Ice Extent in millions of sq. km</text>
<text x="307" y="380" text-anchor="middle" font-family="Liberation Sans, sans-serif" font-size="5.45">Day of Year</text>
<text x="186.2" y="387.5" font-family="Liberation Sans, sans-serif" font-size="5.44" xml:space="preserve">Today's Ice Extent: 21.281  - Record for the day: 24.146 which occured on 2015.5.13  - Mean: 23.16</text>
<text x="10" y="381.8" font-family="Liberation Sans, sans-serif" font-size="11.08">http://sunshinehours.wordpress.com</text>
</svg>
</body></html>
